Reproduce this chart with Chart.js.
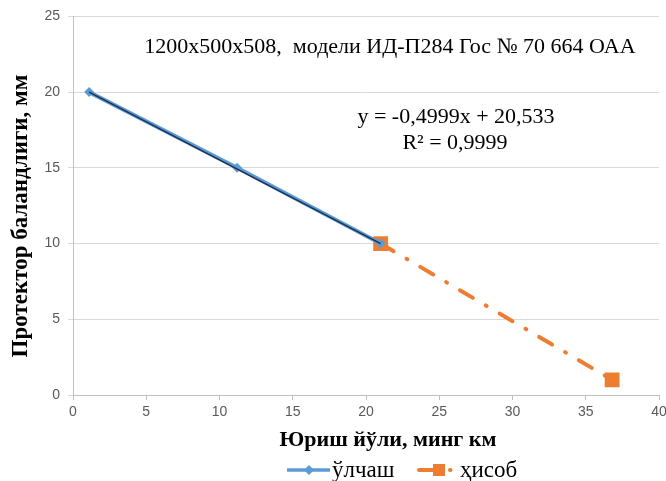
<!DOCTYPE html>
<html>
<head>
<meta charset="utf-8">
<script src="https://cdn.jsdelivr.net/npm/chart.js@4"></script>
<style>
  html, body { margin: 0; padding: 0; background: #fff; }
  #wrap { width: 666px; height: 481px; }
</style>
</head>
<body>
<div id="wrap"><canvas id="c" width="666" height="481"></canvas></div>
<script>
// measured points (ўлчаш)
const measX = [1.1, 11.2, 21];
const measY = [20, 15, 10];
// calculated points (ҳисоб)
const calcX = [21, 36.8];
const calcY = [10, 1];
// linear trendline
const trendX = [1.1, 21];
const trendY = [20.0, 10.0];

const SERIF = "'Liberation Serif', 'DejaVu Serif', serif";
const SANS = "'Liberation Sans', Arial, sans-serif";
const BLUE = '#5b9bd5';
const ORANGE = '#ed7d31';
const NAVY = '#1f3050';

const toPts = (xs, ys) => xs.map((x, i) => ({ x: x, y: ys[i] }));

// texts, axis titles and legend drawn on top of the chart
const extras = {
    id: 'extras',
    afterDraw(chart) {
        const ctx = chart.ctx;
        ctx.save();
        ctx.fillStyle = '#000';
        ctx.textBaseline = 'middle';
        ctx.textAlign = 'center';

        ctx.font = '22px ' + SERIF;
        ctx.fillText('1200x500x508,  модели ИД-П284 Гос № 70 664 ОАА', 390, 47);
        ctx.fillText('y = -0,4999x + 20,533', 456, 117);
        ctx.fillText('R² = 0,9999', 455, 143);

        // axis titles
        ctx.font = 'bold 22px ' + SERIF;
        ctx.fillText('Юриш йўли, минг км', 388, 440);
        ctx.save();
        ctx.font = 'bold 23px ' + SERIF;
        ctx.translate(21, 216);
        ctx.rotate(-Math.PI / 2);
        ctx.fillText('Протектор баландлиги, мм', 0, 0);
        ctx.restore();

        // legend
        const ly = 470;
        ctx.lineCap = 'butt';
        ctx.strokeStyle = BLUE;
        ctx.lineWidth = 3.5;
        ctx.beginPath(); ctx.moveTo(287, ly); ctx.lineTo(330, ly); ctx.stroke();
        ctx.fillStyle = BLUE;
        ctx.beginPath();
        ctx.moveTo(309, ly - 5); ctx.lineTo(314, ly); ctx.lineTo(309, ly + 5); ctx.lineTo(304, ly);
        ctx.closePath(); ctx.fill();

        ctx.strokeStyle = ORANGE;
        ctx.lineWidth = 4;
        ctx.lineCap = 'round';
        ctx.beginPath(); ctx.moveTo(419, ly); ctx.lineTo(434, ly); ctx.stroke();
        ctx.beginPath(); ctx.moveTo(450, ly); ctx.lineTo(450.5, ly); ctx.stroke();
        ctx.fillStyle = ORANGE;
        ctx.fillRect(433, ly - 6, 12, 12);

        ctx.fillStyle = '#000';
        ctx.textAlign = 'left';
        ctx.font = '23px ' + SERIF;
        ctx.fillText('ўлчаш', 332, ly + 1);
        ctx.fillText('ҳисоб', 460, ly + 1);
        ctx.restore();
    }
};

new Chart(document.getElementById('c').getContext('2d'), {
    type: 'scatter',
    data: {
        datasets: [
            {
                label: 'ҳисоб',
                data: toPts(calcX, calcY),
                showLine: true,
                borderColor: ORANGE,
                backgroundColor: ORANGE,
                borderWidth: 4,
                borderDash: [15, 15, 1, 15],
                borderCapStyle: 'round',
                pointStyle: 'rect',
                pointRadius: 10.5,
                pointBorderWidth: 0,
                order: 3
            },
            {
                label: 'ўлчаш',
                data: toPts(measX, measY),
                showLine: true,
                borderColor: BLUE,
                backgroundColor: BLUE,
                borderWidth: 4,
                pointStyle: 'rectRot',
                pointRadius: 5,
                pointBorderWidth: 0,
                order: 2
            },
            {
                label: 'trend',
                data: toPts(trendX, trendY),
                showLine: true,
                borderColor: NAVY,
                borderWidth: 1.5,
                pointRadius: 0,
                order: 1
            }
        ]
    },
    options: {
        responsive: false,
        animation: false,
        layout: { autoPadding: false, padding: { top: 15, right: 0, bottom: 31, left: 0 } },
        plugins: { legend: { display: false }, tooltip: { enabled: false } },
        scales: {
            x: {
                type: 'linear',
                min: 0, max: 40,
                ticks: { stepSize: 5, color: '#595959', font: { family: SANS, size: 14 }, padding: 4, maxRotation: 0 },
                grid: { drawOnChartArea: false, drawTicks: true, tickLength: 5, color: '#bfbfbf' },
                border: { color: '#bfbfbf' },
                afterFit(s) { s.height = 55; s.paddingRight = 7; }
            },
            y: {
                min: 0, max: 25,
                ticks: { stepSize: 5, color: '#595959', font: { family: SANS, size: 14 }, padding: 8 },
                grid: { color: '#d9d9d9', tickLength: 5 },
                border: { color: '#bfbfbf' },
                afterFit(s) { s.width = 73; }
            }
        }
    },
    plugins: [extras]
});
</script>
</body>
</html>
